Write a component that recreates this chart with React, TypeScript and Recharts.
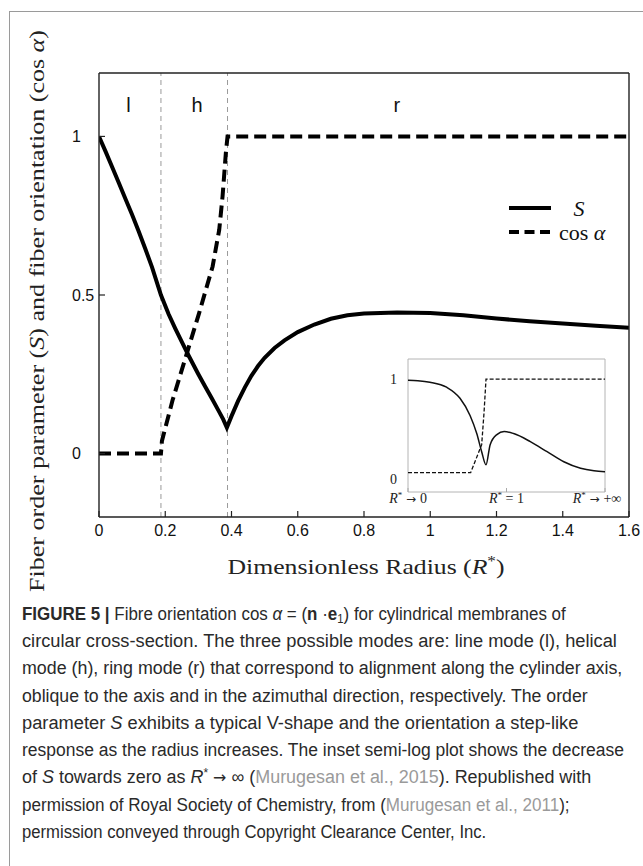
import React, { useLayoutEffect, useRef, useState } from 'react';
import {
  LineChart,
  Line,
  XAxis,
  YAxis,
  ReferenceLine,
  ReferenceDot,
  ReferenceArea,
  Legend,
} from 'recharts';

// ---------- main plot data ----------
const xTicks = [0, 0.2, 0.4, 0.6, 0.8, 1, 1.2, 1.4, 1.6];
const yTicks = [0, 0.5, 1];
const modeBoundaries = [0.187, 0.388];
const modeNames = ['l', 'h', 'r'];
const modeLabelX = [0.089, 0.296, 0.899];
const modeLabelY = 1.1;

const sRadius = [0, 0.02, 0.04, 0.06, 0.08, 0.1, 0.12, 0.14, 0.16, 0.187, 0.21, 0.23, 0.25, 0.27, 0.3, 0.32, 0.34, 0.36, 0.375, 0.386, 0.4, 0.42, 0.44, 0.46, 0.48, 0.5, 0.53, 0.56, 0.6, 0.65, 0.7, 0.75, 0.8, 0.9, 1.0, 1.1, 1.2, 1.3, 1.4, 1.5, 1.6];
const sOrder = [1.0, 0.952, 0.903, 0.853, 0.803, 0.753, 0.7, 0.645, 0.588, 0.5, 0.44, 0.395, 0.352, 0.31, 0.25, 0.212, 0.175, 0.137, 0.108, 0.082, 0.118, 0.166, 0.208, 0.245, 0.276, 0.302, 0.333, 0.357, 0.383, 0.407, 0.425, 0.436, 0.442, 0.445, 0.443, 0.436, 0.426, 0.417, 0.41, 0.403, 0.397];

const cosRadius = [0, 0.187, 0.19, 0.222, 0.262, 0.302, 0.343, 0.363, 0.373, 0.383, 0.388, 1.6];
const cosOrientation = [0, 0, 0.04, 0.168, 0.305, 0.442, 0.59, 0.706, 0.811, 0.949, 1, 1];

// ---------- inset data ----------
const insetXTicks = [0, 0.5, 1];
const insetXTickRel = ['\u2192', '=', '\u2192'];
const insetXTickVal = ['0', '1', '+\u221E'];
const insetYTicks = [0, 1];
const insetSPos = [0, 0.05, 0.111, 0.196, 0.264, 0.315, 0.349, 0.374, 0.396, 0.417, 0.451, 0.488, 0.536, 0.621, 0.706, 0.791, 0.876, 0.944, 1.0];
const insetSValues = [0.99, 0.985, 0.97, 0.92, 0.81, 0.64, 0.46, 0.28, 0.15, 0.35, 0.45, 0.48, 0.46, 0.38, 0.28, 0.18, 0.115, 0.09, 0.08];
const insetCosPos = [0, 0.318, 0.374, 0.386, 0.396, 1.0];
const insetCosValues = [0.072, 0.072, 0.35, 0.67, 1.0, 1.0];

const sData = sRadius.map((x, i) => ({ x, y: sOrder[i] }));
const cosData = cosRadius.map((x, i) => ({ x, y: cosOrientation[i] }));
const insetSData = insetSPos.map((x, i) => ({ x, y: insetSValues[i] }));
const insetCosData = insetCosPos.map((x, i) => ({ x, y: insetCosValues[i] }));

const SANS = 'Liberation Sans, Arial, Helvetica, sans-serif';
const SERIF = 'Liberation Serif, Times New Roman, serif';
const ARROW = 'DejaVu Sans, sans-serif';
const INK = '#111';

const LeftTick = (props: any) => {
  const { x, y, payload } = props;
  return (
    <text x={x} y={y} textAnchor="start" dominantBaseline="central" fontSize={16} fill={INK} fontFamily={SANS}>
      {String(payload.value)}
    </text>
  );
};

const InsetYTick = (props: any) => {
  const { x, y, payload } = props;
  return (
    <text x={x} y={y} textAnchor="end" dominantBaseline="central" fontSize={14} fill="#222" fontFamily={SERIF}>
      {String(payload.value)}
    </text>
  );
};

const InsetXTick = (props: any) => {
  const { x, y, index } = props;
  const shift = index === 2 ? -8 : 0;
  const rel = insetXTickRel[index];
  return (
    <text x={x + shift} y={y} textAnchor="middle" fontSize={14} fill="#222" fontFamily={SERIF}>
      <tspan fontStyle="italic">R</tspan>
      <tspan dy={-5} fontSize={9}>*</tspan>
      <tspan dy={5} fontFamily={rel === '=' ? SERIF : ARROW} fontSize={rel === '=' ? 14 : 12}>
        {' ' + rel + ' '}
      </tspan>
      <tspan>{insetXTickVal[index]}</tspan>
    </text>
  );
};

const LegendBox = (props: any) => {
  const payload = props.payload || [];
  return (
    <svg width={120} height={52} style={{ display: 'block' }}>
      {payload.map((p: any, i: number) => {
        const cy = 15 + i * 24;
        const dashed = p.payload && p.payload.strokeDasharray;
        return (
          <g key={i}>
            <line x1={4} y1={cy} x2={46} y2={cy} stroke="#000" strokeWidth={4} strokeDasharray={dashed ? '10 5.5' : undefined} />
            {i === 0 ? (
              <text x={74} y={cy} textAnchor="middle" dominantBaseline="central" fontSize={22} fontStyle="italic" fontFamily={SERIF} fill="#111">
                S
              </text>
            ) : (
              <text x={54} y={cy} textAnchor="start" dominantBaseline="central" fontSize={22} fontFamily={SERIF} fill="#111">
                cos <tspan fontStyle="italic">{'\u03B1'}</tspan>
              </text>
            )}
          </g>
        );
      })}
    </svg>
  );
};

// caption layout
const captionBaselines = [620, 647, 674.5, 702, 729, 756, 783.5, 811, 838];
const captionEnds = [566, 617, 622, 588, 578, 624, 591, 570, 486];
const LINK = '#9a9a9a';

const captionContent: React.ReactNode[] = [
  <>
    <b>FIGURE 5 | </b>Fibre orientation cos <i>{'\u03B1'}</i> = (<b>n</b> {'\u00B7'}
    <b>e</b>
    <sub style={{ fontSize: 12, verticalAlign: '-3px', lineHeight: 0 }}>1</sub>) for cylindrical membranes of
  </>,
  <>circular cross-section. The three possible modes are: line mode (l), helical</>,
  <>mode (h), ring mode (r) that correspond to alignment along the cylinder axis,</>,
  <>oblique to the axis and in the azimuthal direction, respectively. The order</>,
  <>
    parameter <i>S</i> exhibits a typical V-shape and the orientation a step-like
  </>,
  <>response as the radius increases. The inset semi-log plot shows the decrease</>,
  <>
    of <i>S</i> towards zero as <i>R</i>
    <sup style={{ fontSize: 12, verticalAlign: '6px', lineHeight: 0 }}>*</sup>{' '}
    <span style={{ fontFamily: ARROW, fontSize: 16 }}>{'\u2192'}</span> {'\u221E'} (
    <span style={{ color: LINK }}>Murugesan et al., 2015</span>). Republished with
  </>,
  <>
    permission of Royal Society of Chemistry, from (<span style={{ color: LINK }}>Murugesan et al., 2011</span>);
  </>,
  <>permission conveyed through Copyright Clearance Center, Inc.</>,
];

function FitLine(props: { width: number; baseline: number; children: React.ReactNode }) {
  const ref = useRef<HTMLDivElement>(null);
  const [scale, setScale] = useState(1);
  useLayoutEffect(() => {
    if (ref.current) {
      const w = ref.current.scrollWidth;
      if (w > 0) setScale(props.width / w);
    }
  }, [props.width]);
  return (
    <div
      ref={ref}
      style={{
        position: 'absolute',
        left: 22,
        top: props.baseline - 19.5,
        whiteSpace: 'nowrap',
        fontFamily: SANS,
        fontSize: 18,
        lineHeight: '27px',
        color: '#2a2a2a',
        transform: `scaleX(${scale})`,
        transformOrigin: '0 0',
      }}
    >
      {props.children}
    </div>
  );
}

export default function App() {
  return (
    <div style={{ position: 'absolute', left: 0, top: 0, width: 643, height: 866, background: '#fff', overflow: 'hidden' }}>
      {/* figure frame */}
      <div
        style={{
          position: 'absolute',
          left: 9,
          top: 11,
          width: 700,
          height: 900,
          borderLeft: '1.5px solid #9a9a9a',
          borderTop: '1.5px solid #9a9a9a',
        }}
      />

      {/* main chart */}
      <div style={{ position: 'absolute', left: 0, top: 0 }}>
        <LineChart width={643} height={600} margin={{ top: 72, right: 13, bottom: 0, left: 0 }}>
          <XAxis
            xAxisId="b"
            dataKey="x"
            type="number"
            domain={[0, 1.6]}
            ticks={xTicks}
            interval={0}
            allowDataOverflow
            height={83}
            tickSize={-6}
            tickMargin={14}
            axisLine={{ stroke: '#222', strokeWidth: 1.4 }}
            tickLine={{ stroke: '#222', strokeWidth: 1.2 }}
            tick={{ fill: INK, fontSize: 16, fontFamily: SANS }}
          />
          <XAxis
            xAxisId="t"
            orientation="top"
            dataKey="x"
            type="number"
            domain={[0, 1.6]}
            ticks={xTicks}
            interval={0}
            allowDataOverflow
            height={1}
            tickSize={-6}
            tick={false}
            axisLine={{ stroke: '#222', strokeWidth: 1.4 }}
            tickLine={{ stroke: '#222', strokeWidth: 1.2 }}
          />
          <YAxis
            yAxisId="l"
            type="number"
            domain={[-0.2, 1.2]}
            ticks={yTicks}
            interval={0}
            allowDataOverflow
            width={99}
            tickSize={-6}
            tickMargin={33}
            axisLine={{ stroke: '#222', strokeWidth: 1.4 }}
            tickLine={{ stroke: '#222', strokeWidth: 1.2 }}
            tick={<LeftTick />}
          />
          <YAxis
            yAxisId="r"
            orientation="right"
            type="number"
            domain={[-0.2, 1.2]}
            ticks={yTicks}
            interval={0}
            allowDataOverflow
            width={1}
            tickSize={-6}
            tick={false}
            axisLine={{ stroke: '#222', strokeWidth: 1.4 }}
            tickLine={{ stroke: '#222', strokeWidth: 1.2 }}
          />
          {modeBoundaries.map((b) => (
            <ReferenceLine key={b} xAxisId="b" yAxisId="l" x={b} stroke="#9a9a9a" strokeWidth={1} strokeDasharray="5 4" />
          ))}
          {modeNames.map((m, i) => (
            <ReferenceDot
              key={m}
              xAxisId="b"
              yAxisId="l"
              x={modeLabelX[i]}
              y={modeLabelY}
              r={0}
              fill="none"
              stroke="none"
              label={{ value: m, position: 'center', fill: '#111', fontSize: 20, fontFamily: SANS }}
            />
          ))}
          <Line
            xAxisId="b"
            yAxisId="l"
            data={sData}
            dataKey="y"
            name="S"
            type="linear"
            stroke="#000"
            strokeWidth={4}
            dot={false}
            activeDot={false}
            isAnimationActive={false}
          />
          <Line
            xAxisId="b"
            yAxisId="l"
            data={cosData}
            dataKey="y"
            name="cos α"
            type="linear"
            stroke="#000"
            strokeWidth={4}
            strokeDasharray="12 6"
            dot={false}
            activeDot={false}
            isAnimationActive={false}
          />
          <Legend
            layout="horizontal"
            verticalAlign="middle"
            align="center"
            content={<LegendBox />}
            wrapperStyle={{ left: 505, top: 193, width: 120, height: 52 }}
          />
        </LineChart>
      </div>

      {/* inset */}
      <div style={{ position: 'absolute', left: 370, top: 350 }}>
        <LineChart width={260} height={165} margin={{ top: 8, right: 25, bottom: 0, left: 0 }}>
          <XAxis
            xAxisId="b"
            dataKey="x"
            type="number"
            domain={[0, 1]}
            ticks={insetXTicks}
            interval={0}
            allowDataOverflow
            height={23}
            tickSize={-4}
            tickMargin={15}
            axisLine={false}
            tickLine={{ stroke: '#aaa' }}
            tick={<InsetXTick />}
          />
          <XAxis
            xAxisId="t"
            orientation="top"
            dataKey="x"
            type="number"
            domain={[0, 1]}
            ticks={[0.5]}
            allowDataOverflow
            height={1}
            tickSize={-4}
            axisLine={false}
            tickLine={{ stroke: '#aaa' }}
            tick={false}
          />
          <YAxis
            yAxisId="l"
            type="number"
            domain={[-0.12, 1.2]}
            ticks={insetYTicks}
            interval={0}
            allowDataOverflow
            width={38}
            tickMargin={5}
            axisLine={false}
            tickLine={false}
            tick={<InsetYTick />}
          />
          <ReferenceArea xAxisId="b" yAxisId="l" x1={0} x2={1} y1={-0.12} y2={1.2} fill="none" stroke="#b4b4b4" strokeWidth={1} />
          <Line
            xAxisId="b"
            yAxisId="l"
            data={insetSData}
            dataKey="y"
            type="monotone"
            stroke="#111"
            strokeWidth={1.5}
            dot={false}
            activeDot={false}
            isAnimationActive={false}
          />
          <Line
            xAxisId="b"
            yAxisId="l"
            data={insetCosData}
            dataKey="y"
            type="linear"
            stroke="#111"
            strokeWidth={1.3}
            strokeDasharray="4 2"
            dot={false}
            activeDot={false}
            isAnimationActive={false}
          />
        </LineChart>
      </div>

      {/* axis titles */}
      <svg width={643} height={600} style={{ position: 'absolute', left: 0, top: 0, pointerEvents: 'none' }}>
        <text
          transform="translate(44,311) rotate(-90)"
          textAnchor="middle"
          fontSize={21}
          fontFamily={SERIF}
          fill="#222"
          textLength={562}
          lengthAdjust="spacingAndGlyphs"
        >
          Fiber order parameter (<tspan fontStyle="italic">S</tspan>) and fiber orientation (cos <tspan fontStyle="italic">{'\u03B1'}</tspan>)
        </text>
        <text
          x={366}
          y={574}
          textAnchor="middle"
          fontSize={21}
          fontFamily={SERIF}
          fill="#222"
          textLength={277}
          lengthAdjust="spacingAndGlyphs"
        >
          Dimensionless Radius (<tspan fontStyle="italic">R</tspan>
          <tspan fontSize={14} dy={-8}>*</tspan>
          <tspan dy={8}>)</tspan>
        </text>
      </svg>

      {/* caption */}
      {captionContent.map((c, i) => (
        <FitLine key={i} width={captionEnds[i] - 22} baseline={captionBaselines[i]}>
          {c}
        </FitLine>
      ))}
    </div>
  );
}
